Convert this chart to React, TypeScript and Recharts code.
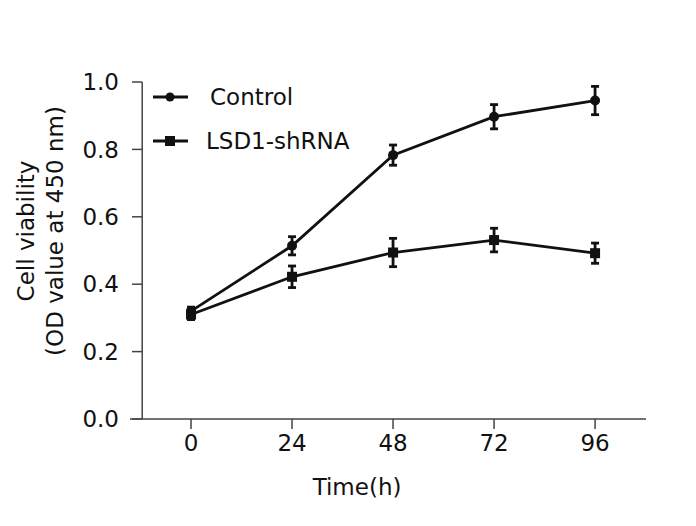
import {
  ErrorBar,
  Legend,
  Line,
  LineChart,
  ReferenceLine,
  XAxis,
  YAxis,
} from 'recharts';

const hours = [0, 24, 48, 72, 96];
const controlMean = [0.32, 0.514, 0.783, 0.897, 0.945];
const controlErr = [0.012, 0.027, 0.03, 0.036, 0.042];
const shrnaMean = [0.31, 0.422, 0.494, 0.531, 0.492];
const shrnaErr = [0.015, 0.032, 0.042, 0.035, 0.03];
const xTicks = [0, 24, 48, 72, 96];
const yTicks = [0, 0.2, 0.4, 0.6, 0.8, 1.0];

const FONT = '"DejaVu Sans", Verdana, sans-serif';
const FS = 23;
const INK = '#111';
const AXIS = '#444';
const LEGEND_H = 70;

const data = hours.map((h, i) => ({
  h,
  control: controlMean[i],
  controlErr: controlErr[i],
  shrna: shrnaMean[i],
  shrnaErr: shrnaErr[i],
}));

// y axis line sits a little right of the plot's left edge, like the original
const Y_AXIS_AT = -11.6;

function YTick(props: any) {
  const { x, y, payload } = props;
  return (
    <g>
      <line x1={x + 2} y1={y} x2={x + 12} y2={y} stroke={AXIS} strokeWidth={1.5} />
      <text x={x - 11} y={y} dy="0.36em" textAnchor="end" fontFamily={FONT} fontSize={FS} fill={INK}>
        {Number(payload.value).toFixed(1)}
      </text>
    </g>
  );
}

function SquareDot(props: any) {
  const { cx, cy } = props;
  if (cx == null || cy == null) return null;
  return <rect x={cx - 5} y={cy - 5} width={10} height={10} fill={INK} />;
}

function YLabel() {
  const cx = 34;
  const cy = 231;
  return (
    <text
      transform={`rotate(-90, ${cx}, ${cy})`}
      x={cx}
      y={cy}
      textAnchor="middle"
      fontFamily={FONT}
      fontSize={FS}
      fill={INK}
    >
      <tspan x={cx} dy={0}>Cell viability</tspan>
      <tspan x={cx} dy={29}>(OD value at 450 nm)</tspan>
    </text>
  );
}

function XLabel(props: any) {
  const { viewBox } = props;
  const x = viewBox.x + viewBox.width * 0.44;
  return (
    <text x={x} y={viewBox.y + 76} textAnchor="middle" fontFamily={FONT} fontSize={FS} fill={INK}>
      Time(h)
    </text>
  );
}

function LegendBox() {
  const rows = [
    { label: 'Control', square: false },
    { label: 'LSD1-shRNA', square: true },
  ];
  return (
    <svg width={260} height={LEGEND_H} style={{ overflow: 'visible', display: 'block' }}>
      {rows.map((r, i) => {
        const y = 17 + i * 44;
        return (
          <g key={r.label}>
            <line x1={8} y1={y} x2={43} y2={y} stroke={INK} strokeWidth={3} />
            {r.square ? (
              <rect x={20} y={y - 5} width={10} height={10} fill={INK} />
            ) : (
              <circle cx={25} cy={y} r={4.5} fill={INK} />
            )}
            <text x={i === 0 ? 65 : 61} y={y} dy="0.36em" fontFamily={FONT} fontSize={FS} fill={INK}>
              {r.label}
            </text>
          </g>
        );
      })}
    </svg>
  );
}

export default function App() {
  return (
    <div style={{ position: 'absolute', left: 0, top: 0, width: 696, height: 526, background: '#fff' }}>
      <LineChart
        width={696}
        height={526}
        data={data}
        margin={{ top: 82 - LEGEND_H, right: 50, bottom: 0, left: 0 }}
      >
        <XAxis
          dataKey="h"
          type="number"
          domain={[-14.5, 108.1]}
          ticks={xTicks}
          allowDataOverflow
          height={107}
          axisLine={{ stroke: AXIS, strokeWidth: 1.5 }}
          tickLine={{ stroke: AXIS, strokeWidth: 1.5 }}
          tickSize={10}
          tickMargin={6}
          tick={{ fill: INK, fontSize: FS, fontFamily: FONT }}
          label={<XLabel />}
        />
        <YAxis
          type="number"
          domain={[0, 1]}
          ticks={yTicks}
          width={130}
          axisLine={false}
          tickLine={false}
          tickSize={0}
          tickMargin={0}
          tick={<YTick />}
          label={<YLabel />}
        />
        <ReferenceLine x={Y_AXIS_AT} stroke={AXIS} strokeWidth={1.5} />
        <Legend
          verticalAlign="top"
          align="left"
          height={LEGEND_H}
          wrapperStyle={{ position: 'absolute', top: 80, left: 145, width: 260, height: LEGEND_H }}
          content={() => <LegendBox />}
        />
        <Line
          dataKey="shrna"
          stroke={INK}
          strokeWidth={2.8}
          dot={<SquareDot />}
          activeDot={false}
          isAnimationActive={false}
        >
          <ErrorBar dataKey="shrnaErr" width={4} stroke={INK} strokeWidth={2.8} isAnimationActive={false} />
        </Line>
        <Line
          dataKey="control"
          stroke={INK}
          strokeWidth={2.8}
          dot={{ r: 5, fill: INK, stroke: 'none' }}
          activeDot={false}
          isAnimationActive={false}
        >
          <ErrorBar dataKey="controlErr" width={4} stroke={INK} strokeWidth={2.8} isAnimationActive={false} />
        </Line>
      </LineChart>
    </div>
  );
}
